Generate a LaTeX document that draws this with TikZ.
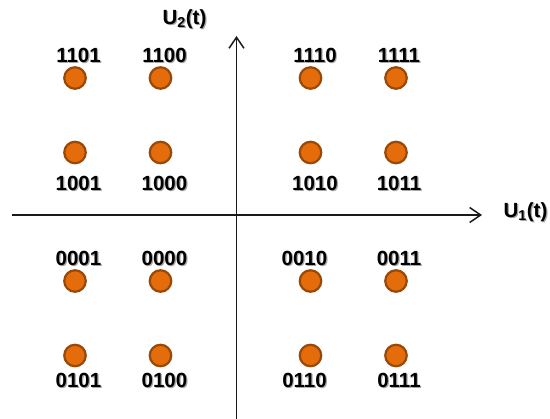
\documentclass[tikz,border=0pt]{standalone}
\usepackage{fontspec}
\setmainfont{Liberation Sans}
\usetikzlibrary{arrows.meta}
\definecolor{dotfill}{HTML}{E46C0A}
\definecolor{dotedge}{HTML}{984807}
\definecolor{axiscol}{HTML}{1A1A1A}
\begin{document}
\begin{tikzpicture}[x=1pt,y=-1pt,
  symbol/.style={circle,fill=dotfill,draw=dotedge,line width=2.2pt,minimum size=21.5pt,inner sep=0pt},
  code/.style={inner sep=0pt,font=\fontsize{20.5}{24}\selectfont\bfseries},
  axis/.style={draw=axiscol,line width=1.6pt,-{Straight Barb[length=11pt,width=15pt,line width=1.5pt]}},
  axlabel/.style={inner sep=0pt,anchor=base,font=\fontsize{20.5}{24}\selectfont\bfseries}]
\useasboundingbox (0,0) rectangle (550,419);

% axes
\coordinate (xl) at (12,215);
\coordinate (xr) at (482,215);
\coordinate (yb) at (236.5,419);
\coordinate (yt) at (236.5,36);
\draw[axis] (xl) -- (xr);
\draw[axis] (yb) -- (yt);
\foreach \n/\x/\y/\t in {u2/184.5/24.5/{U$_{\mathbf 2}$(t)},u1/525.5/217.5/{U$_{\mathbf 1}$(t)}}{
  \node[axlabel,text=black!35] at (\x+1.2,\y+1.2) {\t};
  \node[axlabel] (\n) at (\x,\y) {\t};
}

% constellation points: name / x / y / label x / label y / bits
\foreach \n/\x/\y/\lx/\ly/\b in {
  a/75/78/78.5/55/1101, b/160.5/78/164.5/55/1100, c/310.5/78/315/55/1110, d/396/78/399/55/1111,
  e/75/152.5/78.5/183/1001, f/160.5/152.5/164.5/183/1000, g/310.5/152.5/315/183/1010, h/396/152.5/399/183/1011,
  i/75/281/78.5/258/0001, j/160.5/281/164.5/258/0000, k/310.5/281/304.5/258/0010, l/396/281/399/258/0011,
  m/75/355.5/78.5/380/0101, n/160.5/355.5/164.5/380/0100, o/310.5/355.5/304.5/380/0110, p/396/355.5/399/380/0111}{
  \node[symbol] (\n) at (\x,\y) {};
  \node[code,text=black!35] at (\lx+1.2,\ly+1.2) {\b};
  \node[code] (\n-bits) at (\lx,\ly) {\b};
}
\end{tikzpicture}
\end{document}
